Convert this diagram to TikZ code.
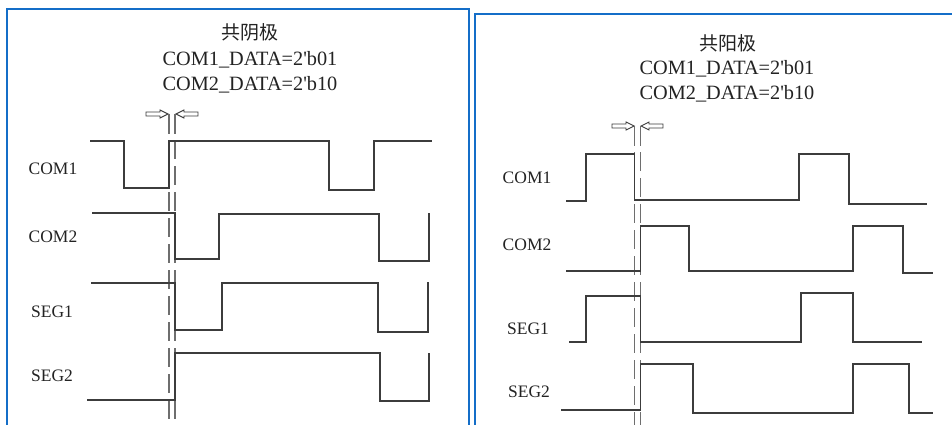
\documentclass[tikz,border=0pt]{standalone}
\usepackage{fontspec}
\setmainfont{Liberation Serif}
\newfontfamily\tnr{Liberation Serif}
\newfontfamily\cjk{Noto Sans CJK SC}
\definecolor{panelblue}{RGB}{20,110,200}
\definecolor{wavecol}{RGB}{60,60,60}
\definecolor{dashcol}{RGB}{110,110,110}
\definecolor{txtcol}{RGB}{35,35,35}
\begin{document}
\begin{tikzpicture}[x=1pt,y=-1pt,
  sig/.style={draw=wavecol,line width=1.4pt,line join=miter},
  guide/.style={draw=dashcol,line width=1.4pt},
  dguide/.style={draw=dashcol,line width=1.4pt,dash pattern=on 19pt off 7pt},
  hollow/.style={draw=wavecol,line width=0.9pt,fill=white},
  lbl/.style={inner sep=0pt,anchor=base,text=txtcol,font=\tnr\fontsize{17.5}{20}\selectfont},
  ttl/.style={inner sep=0pt,anchor=base,text=txtcol,font=\tnr\fontsize{20.3}{24}\selectfont},
  cttl/.style={inner sep=0pt,anchor=center,text=txtcol,font=\cjk\fontsize{19}{22}\selectfont},
  panel/.style={draw=panelblue,line width=2pt}]
\useasboundingbox (0,0) rectangle (952,425);
\fill[white] (0,0) rectangle (952,425);
\clip (0,0) rectangle (952,425);

% ---------------- left panel ----------------
\draw[panel] (7,9) rectangle (469,440);
\node[cttl] (ct1) at (250,32) {共阴极};
\node[ttl] (t1a) at (250,66) {COM1\_DATA=2'b01};
\node[ttl] (t1b) at (250,91) {COM2\_DATA=2'b10};

\draw[hollow] (146,112) -- (160,112) -- (160,110) -- (168,114) -- (160,118) -- (160,116) -- (146,116) -- cycle;
\draw[hollow] (198,112) -- (184,112) -- (184,110) -- (176,114) -- (184,118) -- (184,116) -- (198,116) -- cycle;

\coordinate (g1t) at (169,114);
\coordinate (g2t) at (175,114);
\draw[guide] (g1t) -- (169,134);
\draw[guide] (g2t) -- (175,134);
\draw[dguide] (169,140) -- (169,430);
\draw[dguide] (175,140) -- (175,430);

\node[lbl] (lc1) at (53,174) {COM1};
\node[lbl] (lc2) at (53,242) {COM2};
\node[lbl] (ls1) at (52,317) {SEG1};
\node[lbl] (ls2) at (52,381) {SEG2};

\draw[sig] (90,141) -- (124,141) -- (124,188) -- (169,188) -- (169,141) -- (329,141) -- (329,190) -- (374,190) -- (374,141) -- (432,141);
\draw[sig] (92,213) -- (175,213) -- (175,259) -- (219,259) -- (219,214) -- (379,214) -- (379,261) -- (429,261) -- (429,214) -- (430,214);
\draw[sig] (91,283) -- (175,283) -- (175,330) -- (222,330) -- (222,283) -- (378,283) -- (378,332) -- (428,332) -- (428,283) -- (429,283);
\draw[sig] (87,400) -- (175,400) -- (175,353) -- (380,353) -- (380,401) -- (429,401) -- (429,354) -- (430,354);

% ---------------- right panel ----------------
\draw[panel] (475,14) rectangle (970,440);
\node[cttl] (ct2) at (728,43) {共阳极};
\node[ttl] (t2a) at (727,75) {COM1\_DATA=2'b01};
\node[ttl] (t2b) at (727,100) {COM2\_DATA=2'b10};

\draw[hollow] (612,124) -- (626,124) -- (626,122) -- (634,126) -- (626,130) -- (626,128) -- (612,128) -- cycle;
\draw[hollow] (663,124) -- (649,124) -- (649,122) -- (641,126) -- (649,130) -- (649,128) -- (663,128) -- cycle;

\coordinate (g3t) at (634.7,126);
\coordinate (g4t) at (640.3,126);
\draw[guide] (g3t) -- (634.7,146);
\draw[guide] (g4t) -- (640.3,146);
\draw[dguide] (634.7,152) -- (634.7,430);
\draw[dguide] (640.3,152) -- (640.3,430);

\node[lbl] (rc1) at (527,183) {COM1};
\node[lbl] (rc2) at (527,250) {COM2};
\node[lbl] (rs1) at (528,334) {SEG1};
\node[lbl] (rs2) at (529,397) {SEG2};

\draw[sig] (566,201) -- (586,201) -- (586,154) -- (634.7,154) -- (634.7,200) -- (799,200) -- (799,154) -- (849,154) -- (849,204) -- (927,204);
\draw[sig] (566,271) -- (640.3,271) -- (640.3,226) -- (689,226) -- (689,271) -- (853,271) -- (853,226) -- (903,226) -- (903,273) -- (933,273);
\draw[sig] (569,342) -- (586,342) -- (586,296) -- (640.3,296) -- (640.3,342) -- (801,342) -- (801,293) -- (853,293) -- (853,342) -- (922,342);
\draw[sig] (561,410) -- (640.3,410) -- (640.3,364) -- (693,364) -- (693,413) -- (853,413) -- (853,364) -- (909,364) -- (909,413) -- (933,413);
\end{tikzpicture}
\end{document}
